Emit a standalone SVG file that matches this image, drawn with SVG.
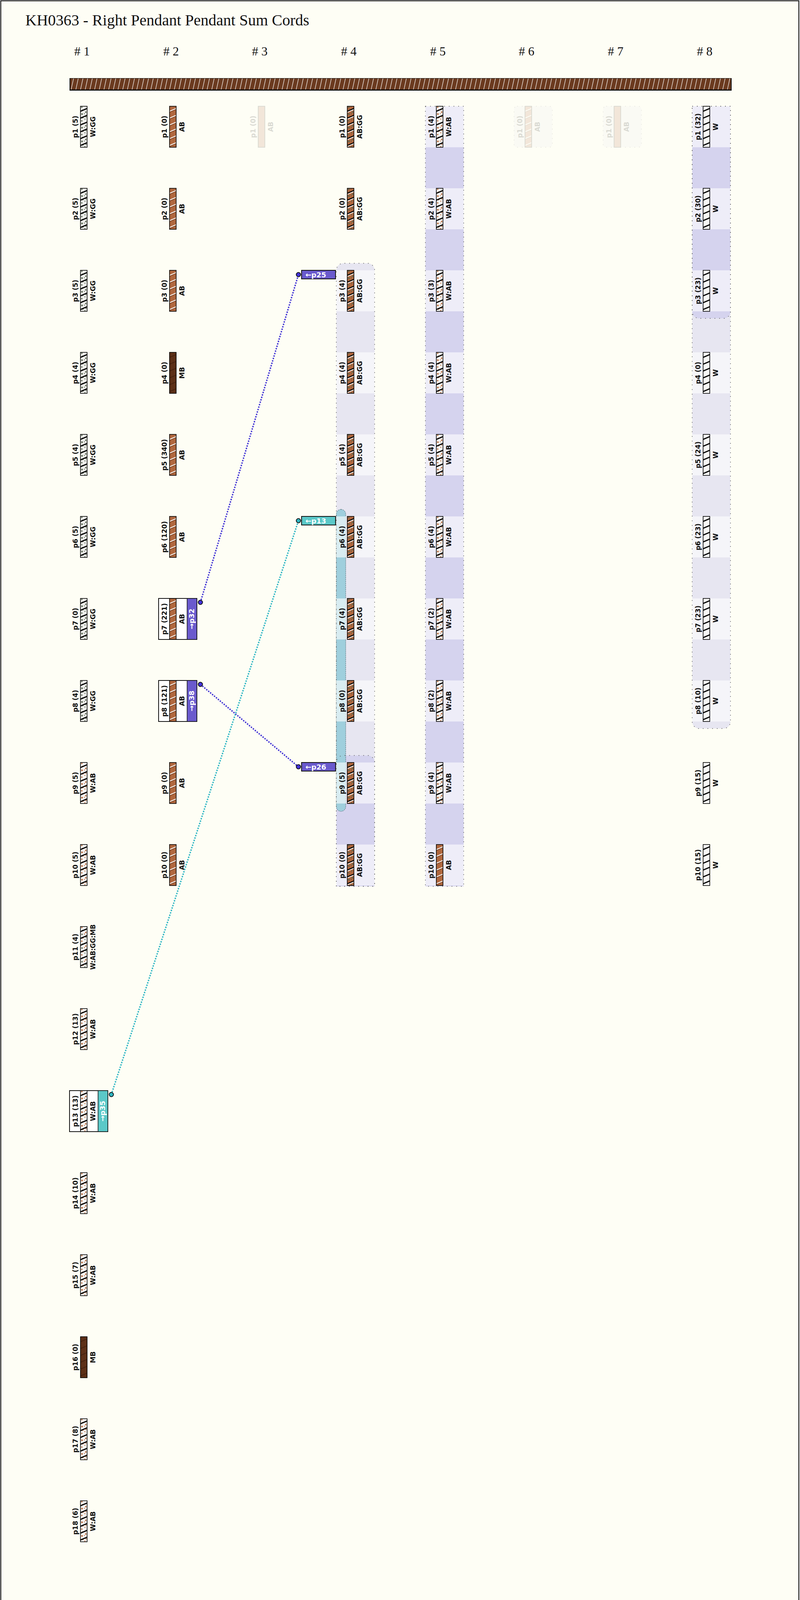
<svg xmlns="http://www.w3.org/2000/svg" width="2048" height="4234" viewBox="0 0 2048 4234">
<style>
.lb{font-family:"DejaVu Sans",Verdana,sans-serif;font-weight:bold;font-size:17px;fill:#111;text-anchor:middle}
.tag{font-family:"DejaVu Sans",Verdana,sans-serif;font-weight:bold;font-size:18px;fill:#fff}
.vtag{font-family:"DejaVu Sans",Verdana,sans-serif;font-weight:bold;font-size:18px;fill:#fff;text-anchor:middle}
.hdr{font-family:"Liberation Serif","Times New Roman",serif;font-size:32px;fill:#111;text-anchor:middle}
.cord{stroke:#000;stroke-width:1.6}
.layer{fill:#9d98e6;fill-opacity:0.23}
.gborder{fill:none;stroke:#555;stroke-width:1.5;stroke-dasharray:2 10}
.band{fill:#fff;fill-opacity:0.6}
.box{fill:#fff;stroke:#111;stroke-width:2}
.blue{fill:none;stroke:#3d2fd4;stroke-width:3.5;stroke-dasharray:3.5 3}
.cyan{fill:none;stroke:#2bb5c3;stroke-width:3.5;stroke-dasharray:3.5 3}
.dotb{fill:#4433dd;stroke:#111;stroke-width:2}
.dotc{fill:#2fb8c4;stroke:#111;stroke-width:2}
</style>
<defs>
<pattern id="pAB" width="17" height="35" patternUnits="userSpaceOnUse">
<rect width="17" height="35" fill="#b0673e"/>
<path d="M-1,15.8 L18,7.5 M-1,33.3 L18,25" stroke="#5a2e16" stroke-width="1"/>
<path d="M-1,13.4 L18,5.1 M-1,30.9 L18,22.6" stroke="#fff" stroke-width="2"/>
</pattern>
<pattern id="pMB" width="17" height="35" patternUnits="userSpaceOnUse">
<rect width="17" height="35" fill="#5c2f17"/>
<path d="M-1,13.4 L18,5.1 M-1,30.9 L18,22.6" stroke="#3b1b0b" stroke-width="1.5"/>
</pattern>
<pattern id="pW" width="17" height="35" patternUnits="userSpaceOnUse">
<rect width="17" height="35" fill="#f8f8f6"/>
<path d="M-1,13.4 L18,5.1 M-1,30.9 L18,22.6" stroke="#000" stroke-width="3"/>
</pattern>
<pattern id="pWGG" width="17" height="35" patternUnits="userSpaceOnUse">
<rect width="17" height="35" fill="#efefec"/>
<g fill="#5d6a55"><circle cx="3.5" cy="2.5" r="1.8"/><circle cx="12" cy="8" r="1.5"/><circle cx="5" cy="9.5" r="1.3"/><circle cx="13.5" cy="15" r="2"/><circle cx="4" cy="20" r="2.2"/><circle cx="10" cy="19" r="1.2"/><circle cx="14" cy="27" r="1.6"/><circle cx="6" cy="29" r="1.9"/><circle cx="11.5" cy="33" r="1.4"/></g>
<path d="M-1,13.4 L18,5.1 M-1,30.9 L18,22.6" stroke="#000" stroke-width="3"/>
</pattern>
<pattern id="pWAB" width="17" height="35" patternUnits="userSpaceOnUse">
<rect width="17" height="35" fill="#f6f6f4"/>
<g fill="#b86a3c"><circle cx="3.5" cy="2.5" r="1.8"/><circle cx="12" cy="8" r="1.5"/><circle cx="5" cy="9.5" r="1.3"/><circle cx="13.5" cy="15" r="2"/><circle cx="4" cy="20" r="2.2"/><circle cx="10" cy="19" r="1.2"/><circle cx="14" cy="27" r="1.6"/><circle cx="6" cy="29" r="1.9"/><circle cx="11.5" cy="33" r="1.4"/></g>
<path d="M-1,13.4 L18,5.1 M-1,30.9 L18,22.6" stroke="#000" stroke-width="3"/>
</pattern>
<pattern id="pWABGGMB" width="17" height="35" patternUnits="userSpaceOnUse">
<rect width="17" height="35" fill="#f4f4f2"/>
<g fill="#b86a3c"><circle cx="3.5" cy="2.5" r="1.8"/><circle cx="13.5" cy="15" r="2"/><circle cx="10" cy="19" r="1.4"/><circle cx="6" cy="29" r="1.9"/></g>
<g fill="#5d6a55"><circle cx="12" cy="8" r="1.6"/><circle cx="5" cy="9.5" r="1.3"/><circle cx="4" cy="20" r="2"/><circle cx="14" cy="27" r="1.6"/><circle cx="11.5" cy="33" r="1.4"/></g>
<path d="M-1,13.4 L18,5.1 M-1,30.9 L18,22.6" stroke="#000" stroke-width="3"/>
</pattern>
<pattern id="pABGG" width="17" height="35" patternUnits="userSpaceOnUse">
<rect width="17" height="35" fill="#b0673e"/>
<g fill="#546450"><circle cx="3.5" cy="2.5" r="1.8"/><circle cx="12" cy="8" r="1.5"/><circle cx="5" cy="9.5" r="1.3"/><circle cx="13.5" cy="15" r="2"/><circle cx="4" cy="20" r="2.2"/><circle cx="10" cy="19" r="1.2"/><circle cx="14" cy="27" r="1.6"/><circle cx="6" cy="29" r="1.9"/><circle cx="11.5" cy="33" r="1.4"/></g>
<path d="M-1,13.4 L18,5.1 M-1,30.9 L18,22.6" stroke="#000" stroke-width="2.5"/>
<path d="M-1,16.2 L18,7.9 M-1,33.7 L18,25.4" stroke="#fff" stroke-width="2"/>
</pattern>
<pattern id="pBar" width="12" height="28" patternUnits="userSpaceOnUse">
<rect width="12" height="28" fill="#6b3a1f"/>
<path d="M2,29 L8.5,-1" stroke="#fff" stroke-width="1.2"/>
</pattern>
</defs>

<rect x="2" y="2" width="2043" height="4229" fill="#fefef5" stroke="#222" stroke-width="2.5"/>

<text x="65" y="65" font-family="'Liberation Serif','Times New Roman',serif" font-size="40" fill="#111">KH0363 - Right Pendant Pendant Sum Cords</text>

<g id="headers">
<text class="hdr" x="210" y="142"># 1</text>
<text class="hdr" x="438" y="142"># 2</text>
<text class="hdr" x="665" y="142"># 3</text>
<text class="hdr" x="893" y="142"># 4</text>
<text class="hdr" x="1121" y="142"># 5</text>
<text class="hdr" x="1348" y="142"># 6</text>
<text class="hdr" x="1576" y="142"># 7</text>
<text class="hdr" x="1804" y="142"># 8</text>
</g>

<g id="main-cord">
<rect x="178" y="200" width="1695" height="32" fill="#111"/>
<g transform="translate(180,201)"><rect width="1691" height="28" fill="url(#pBar)"/></g>
</g>

<g id="groups">
<path class="layer" d="M861,2269 V692 A18,18 0 0 1 879,674 H941 A18,18 0 0 1 959,692 V2269 Z"/>
<path class="layer" d="M861,2269 V1952 A18,18 0 0 1 879,1934 H941 A18,18 0 0 1 959,1952 V2269 Z"/>
<rect class="layer" x="1089" y="272" width="98" height="1997"/>
<rect class="layer" x="1089" y="272" width="98" height="1997"/>
<path class="layer" d="M1772,272 H1870 V1847 A18,18 0 0 1 1852,1865 H1790 A18,18 0 0 1 1772,1847 Z"/>
<path class="layer" d="M1772,272 H1870 V797 A18,18 0 0 1 1852,815 H1790 A18,18 0 0 1 1772,797 Z"/>
<rect x="861" y="1304" width="24" height="773" rx="12" fill="#9fcfdd" stroke="#3b5660" stroke-width="1" stroke-dasharray="3 2"/>
<g id="bands">
<rect class="band" x="861" y="692" width="98" height="105"/>
<rect class="band" x="861" y="902" width="98" height="105"/>
<rect class="band" x="861" y="1112" width="98" height="105"/>
<rect class="band" x="861" y="1322" width="98" height="105"/>
<rect class="band" x="861" y="1532" width="98" height="105"/>
<rect class="band" x="861" y="1742" width="98" height="105"/>
<rect class="band" x="861" y="1952" width="98" height="105"/>
<rect class="band" x="861" y="2162" width="98" height="105"/>
<rect class="band" x="1089" y="272" width="98" height="105"/>
<rect class="band" x="1089" y="482" width="98" height="105"/>
<rect class="band" x="1089" y="692" width="98" height="105"/>
<rect class="band" x="1089" y="902" width="98" height="105"/>
<rect class="band" x="1089" y="1112" width="98" height="105"/>
<rect class="band" x="1089" y="1322" width="98" height="105"/>
<rect class="band" x="1089" y="1532" width="98" height="105"/>
<rect class="band" x="1089" y="1742" width="98" height="105"/>
<rect class="band" x="1089" y="1952" width="98" height="105"/>
<rect class="band" x="1089" y="2162" width="98" height="105"/>
<rect class="band" x="1772" y="272" width="98" height="105"/>
<rect class="band" x="1772" y="482" width="98" height="105"/>
<rect class="band" x="1772" y="692" width="98" height="105"/>
<rect class="band" x="1772" y="902" width="98" height="105"/>
<rect class="band" x="1772" y="1112" width="98" height="105"/>
<rect class="band" x="1772" y="1322" width="98" height="105"/>
<rect class="band" x="1772" y="1532" width="98" height="105"/>
<rect class="band" x="1772" y="1742" width="98" height="105"/>
</g>
<path class="gborder" d="M861,2269 V692 A18,18 0 0 1 879,674 H941 A18,18 0 0 1 959,692 V2269 Z"/>
<path class="gborder" d="M861,2269 V1952 A18,18 0 0 1 879,1934 H941 A18,18 0 0 1 959,1952 V2269 Z"/>
<rect class="gborder" x="1089" y="272" width="98" height="1997"/>
<path class="gborder" d="M1772,272 H1870 V1847 A18,18 0 0 1 1852,1865 H1790 A18,18 0 0 1 1772,1847 Z"/>
<path class="gborder" d="M1772,272 H1870 V797 A18,18 0 0 1 1852,815 H1790 A18,18 0 0 1 1772,797 Z"/>
</g>

<g id="col1">
<g id="c1p1" transform="translate(206,272)"><rect class="cord" width="17" height="105" fill="url(#pWGG)"/><text class="lb" transform="translate(-7,52.5) rotate(-90)">p1 (5)</text><text class="lb" transform="translate(38,52.5) rotate(-90)">W:GG</text></g>
<g id="c1p2" transform="translate(206,482)"><rect class="cord" width="17" height="105" fill="url(#pWGG)"/><text class="lb" transform="translate(-7,52.5) rotate(-90)">p2 (5)</text><text class="lb" transform="translate(38,52.5) rotate(-90)">W:GG</text></g>
<g id="c1p3" transform="translate(206,692)"><rect class="cord" width="17" height="105" fill="url(#pWGG)"/><text class="lb" transform="translate(-7,52.5) rotate(-90)">p3 (5)</text><text class="lb" transform="translate(38,52.5) rotate(-90)">W:GG</text></g>
<g id="c1p4" transform="translate(206,902)"><rect class="cord" width="17" height="105" fill="url(#pWGG)"/><text class="lb" transform="translate(-7,52.5) rotate(-90)">p4 (4)</text><text class="lb" transform="translate(38,52.5) rotate(-90)">W:GG</text></g>
<g id="c1p5" transform="translate(206,1112)"><rect class="cord" width="17" height="105" fill="url(#pWGG)"/><text class="lb" transform="translate(-7,52.5) rotate(-90)">p5 (4)</text><text class="lb" transform="translate(38,52.5) rotate(-90)">W:GG</text></g>
<g id="c1p6" transform="translate(206,1322)"><rect class="cord" width="17" height="105" fill="url(#pWGG)"/><text class="lb" transform="translate(-7,52.5) rotate(-90)">p6 (5)</text><text class="lb" transform="translate(38,52.5) rotate(-90)">W:GG</text></g>
<g id="c1p7" transform="translate(206,1532)"><rect class="cord" width="17" height="105" fill="url(#pWGG)"/><text class="lb" transform="translate(-7,52.5) rotate(-90)">p7 (0)</text><text class="lb" transform="translate(38,52.5) rotate(-90)">W:GG</text></g>
<g id="c1p8" transform="translate(206,1742)"><rect class="cord" width="17" height="105" fill="url(#pWGG)"/><text class="lb" transform="translate(-7,52.5) rotate(-90)">p8 (4)</text><text class="lb" transform="translate(38,52.5) rotate(-90)">W:GG</text></g>
<g id="c1p9" transform="translate(206,1952)"><rect class="cord" width="17" height="105" fill="url(#pWAB)"/><text class="lb" transform="translate(-7,52.5) rotate(-90)">p9 (5)</text><text class="lb" transform="translate(38,52.5) rotate(-90)">W:AB</text></g>
<g id="c1p10" transform="translate(206,2162)"><rect class="cord" width="17" height="105" fill="url(#pWAB)"/><text class="lb" transform="translate(-7,52.5) rotate(-90)">p10 (5)</text><text class="lb" transform="translate(38,52.5) rotate(-90)">W:AB</text></g>
<g id="c1p11" transform="translate(206,2372)"><rect class="cord" width="17" height="105" fill="url(#pWABGGMB)"/><text class="lb" transform="translate(-7,52.5) rotate(-90)">p11 (4)</text><text class="lb" transform="translate(38,52.5) rotate(-90)" textLength="116" lengthAdjust="spacingAndGlyphs">W:AB:GG:MB</text></g>
<g id="c1p12" transform="translate(206,2582)"><rect class="cord" width="17" height="105" fill="url(#pWAB)"/><text class="lb" transform="translate(-7,52.5) rotate(-90)">p12 (13)</text><text class="lb" transform="translate(38,52.5) rotate(-90)">W:AB</text></g>
<g id="c1p13" transform="translate(206,2792)"><rect class="box" x="-28" y="0" width="98" height="105"/><rect class="cord" width="17" height="105" fill="url(#pWAB)"/><rect x="45" y="0" width="25" height="105" fill="#5bc8c8" stroke="#111" stroke-width="1.5"/><text class="lb" transform="translate(-7,52.5) rotate(-90)">p13 (13)</text><text class="lb" transform="translate(38,52.5) rotate(-90)">W:AB</text><text class="vtag" transform="translate(63,52.5) rotate(-90)">→p35</text></g>
<g id="c1p14" transform="translate(206,3002)"><rect class="cord" width="17" height="105" fill="url(#pWAB)"/><text class="lb" transform="translate(-7,52.5) rotate(-90)">p14 (10)</text><text class="lb" transform="translate(38,52.5) rotate(-90)">W:AB</text></g>
<g id="c1p15" transform="translate(206,3212)"><rect class="cord" width="17" height="105" fill="url(#pWAB)"/><text class="lb" transform="translate(-7,52.5) rotate(-90)">p15 (7)</text><text class="lb" transform="translate(38,52.5) rotate(-90)">W:AB</text></g>
<g id="c1p16" transform="translate(206,3422)"><rect class="cord" width="17" height="105" fill="url(#pMB)"/><text class="lb" transform="translate(-7,52.5) rotate(-90)">p16 (0)</text><text class="lb" transform="translate(38,52.5) rotate(-90)">MB</text></g>
<g id="c1p17" transform="translate(206,3632)"><rect class="cord" width="17" height="105" fill="url(#pWAB)"/><text class="lb" transform="translate(-7,52.5) rotate(-90)">p17 (8)</text><text class="lb" transform="translate(38,52.5) rotate(-90)">W:AB</text></g>
<g id="c1p18" transform="translate(206,3842)"><rect class="cord" width="17" height="105" fill="url(#pWAB)"/><text class="lb" transform="translate(-7,52.5) rotate(-90)">p18 (6)</text><text class="lb" transform="translate(38,52.5) rotate(-90)">W:AB</text></g>
</g>

<g id="col2">
<g id="c2p1" transform="translate(434,272)"><rect class="cord" width="17" height="105" fill="url(#pAB)"/><text class="lb" transform="translate(-7,52.5) rotate(-90)">p1 (0)</text><text class="lb" transform="translate(38,52.5) rotate(-90)">AB</text></g>
<g id="c2p2" transform="translate(434,482)"><rect class="cord" width="17" height="105" fill="url(#pAB)"/><text class="lb" transform="translate(-7,52.5) rotate(-90)">p2 (0)</text><text class="lb" transform="translate(38,52.5) rotate(-90)">AB</text></g>
<g id="c2p3" transform="translate(434,692)"><rect class="cord" width="17" height="105" fill="url(#pAB)"/><text class="lb" transform="translate(-7,52.5) rotate(-90)">p3 (0)</text><text class="lb" transform="translate(38,52.5) rotate(-90)">AB</text></g>
<g id="c2p4" transform="translate(434,902)"><rect class="cord" width="17" height="105" fill="url(#pMB)"/><text class="lb" transform="translate(-7,52.5) rotate(-90)">p4 (0)</text><text class="lb" transform="translate(38,52.5) rotate(-90)">MB</text></g>
<g id="c2p5" transform="translate(434,1112)"><rect class="cord" width="17" height="105" fill="url(#pAB)"/><text class="lb" transform="translate(-7,52.5) rotate(-90)">p5 (340)</text><text class="lb" transform="translate(38,52.5) rotate(-90)">AB</text></g>
<g id="c2p6" transform="translate(434,1322)"><rect class="cord" width="17" height="105" fill="url(#pAB)"/><text class="lb" transform="translate(-7,52.5) rotate(-90)">p6 (120)</text><text class="lb" transform="translate(38,52.5) rotate(-90)">AB</text></g>
<g id="c2p7" transform="translate(434,1532)"><rect class="box" x="-28" y="0" width="98" height="105"/><rect class="cord" width="17" height="105" fill="url(#pAB)"/><rect x="45" y="0" width="25" height="105" fill="#6a5acd" stroke="#111" stroke-width="1.5"/><text class="lb" transform="translate(-7,52.5) rotate(-90)">p7 (221)</text><text class="lb" transform="translate(38,52.5) rotate(-90)">AB</text><text class="vtag" transform="translate(63,52.5) rotate(-90)">→p32</text></g>
<g id="c2p8" transform="translate(434,1742)"><rect class="box" x="-28" y="0" width="98" height="105"/><rect class="cord" width="17" height="105" fill="url(#pAB)"/><rect x="45" y="0" width="25" height="105" fill="#6a5acd" stroke="#111" stroke-width="1.5"/><text class="lb" transform="translate(-7,52.5) rotate(-90)">p8 (121)</text><text class="lb" transform="translate(38,52.5) rotate(-90)">AB</text><text class="vtag" transform="translate(63,52.5) rotate(-90)">→p38</text></g>
<g id="c2p9" transform="translate(434,1952)"><rect class="cord" width="17" height="105" fill="url(#pAB)"/><text class="lb" transform="translate(-7,52.5) rotate(-90)">p9 (0)</text><text class="lb" transform="translate(38,52.5) rotate(-90)">AB</text></g>
<g id="c2p10" transform="translate(434,2162)"><rect class="cord" width="17" height="105" fill="url(#pAB)"/><text class="lb" transform="translate(-7,52.5) rotate(-90)">p10 (0)</text><text class="lb" transform="translate(38,52.5) rotate(-90)">AB</text></g>
</g>

<g id="col3">
<g id="c3p1" transform="translate(661,272)" opacity="0.15"><rect class="cord" width="17" height="105" fill="#b0673e"/><text class="lb" transform="translate(-7,52.5) rotate(-90)">p1 (0)</text><text class="lb" transform="translate(38,52.5) rotate(-90)">AB</text></g>
</g>

<g id="col4">
<g id="c4p1" transform="translate(889,272)"><rect class="cord" width="17" height="105" fill="url(#pABGG)"/><text class="lb" transform="translate(-7,52.5) rotate(-90)">p1 (0)</text><text class="lb" transform="translate(38,52.5) rotate(-90)">AB:GG</text></g>
<g id="c4p2" transform="translate(889,482)"><rect class="cord" width="17" height="105" fill="url(#pABGG)"/><text class="lb" transform="translate(-7,52.5) rotate(-90)">p2 (0)</text><text class="lb" transform="translate(38,52.5) rotate(-90)">AB:GG</text></g>
<g id="c4p3" transform="translate(889,692)"><rect class="cord" width="17" height="105" fill="url(#pABGG)"/><text class="lb" transform="translate(-7,52.5) rotate(-90)">p3 (4)</text><text class="lb" transform="translate(38,52.5) rotate(-90)">AB:GG</text><rect x="-117" y="0" width="87" height="22" fill="#6a5acd" stroke="#111" stroke-width="2"/><text class="tag" x="-107" y="18">←p25</text></g>
<g id="c4p4" transform="translate(889,902)"><rect class="cord" width="17" height="105" fill="url(#pABGG)"/><text class="lb" transform="translate(-7,52.5) rotate(-90)">p4 (4)</text><text class="lb" transform="translate(38,52.5) rotate(-90)">AB:GG</text></g>
<g id="c4p5" transform="translate(889,1112)"><rect class="cord" width="17" height="105" fill="url(#pABGG)"/><text class="lb" transform="translate(-7,52.5) rotate(-90)">p5 (4)</text><text class="lb" transform="translate(38,52.5) rotate(-90)">AB:GG</text></g>
<g id="c4p6" transform="translate(889,1322)"><rect class="cord" width="17" height="105" fill="url(#pABGG)"/><text class="lb" transform="translate(-7,52.5) rotate(-90)">p6 (4)</text><text class="lb" transform="translate(38,52.5) rotate(-90)">AB:GG</text><rect x="-117" y="0" width="87" height="22" fill="#5bc8c8" stroke="#111" stroke-width="2"/><text class="tag" x="-107" y="18">←p13</text></g>
<g id="c4p7" transform="translate(889,1532)"><rect class="cord" width="17" height="105" fill="url(#pABGG)"/><text class="lb" transform="translate(-7,52.5) rotate(-90)">p7 (4)</text><text class="lb" transform="translate(38,52.5) rotate(-90)">AB:GG</text></g>
<g id="c4p8" transform="translate(889,1742)"><rect class="cord" width="17" height="105" fill="url(#pABGG)"/><text class="lb" transform="translate(-7,52.5) rotate(-90)">p8 (0)</text><text class="lb" transform="translate(38,52.5) rotate(-90)">AB:GG</text></g>
<g id="c4p9" transform="translate(889,1952)"><rect class="cord" width="17" height="105" fill="url(#pABGG)"/><text class="lb" transform="translate(-7,52.5) rotate(-90)">p9 (5)</text><text class="lb" transform="translate(38,52.5) rotate(-90)">AB:GG</text><rect x="-117" y="0" width="87" height="22" fill="#6a5acd" stroke="#111" stroke-width="2"/><text class="tag" x="-107" y="18">←p26</text></g>
<g id="c4p10" transform="translate(889,2162)"><rect class="cord" width="17" height="105" fill="url(#pABGG)"/><text class="lb" transform="translate(-7,52.5) rotate(-90)">p10 (0)</text><text class="lb" transform="translate(38,52.5) rotate(-90)">AB:GG</text></g>
</g>

<g id="col5">
<g id="c5p1" transform="translate(1117,272)"><rect class="cord" width="17" height="105" fill="url(#pWAB)"/><text class="lb" transform="translate(-7,52.5) rotate(-90)">p1 (4)</text><text class="lb" transform="translate(38,52.5) rotate(-90)">W:AB</text></g>
<g id="c5p2" transform="translate(1117,482)"><rect class="cord" width="17" height="105" fill="url(#pWAB)"/><text class="lb" transform="translate(-7,52.5) rotate(-90)">p2 (4)</text><text class="lb" transform="translate(38,52.5) rotate(-90)">W:AB</text></g>
<g id="c5p3" transform="translate(1117,692)"><rect class="cord" width="17" height="105" fill="url(#pWAB)"/><text class="lb" transform="translate(-7,52.5) rotate(-90)">p3 (3)</text><text class="lb" transform="translate(38,52.5) rotate(-90)">W:AB</text></g>
<g id="c5p4" transform="translate(1117,902)"><rect class="cord" width="17" height="105" fill="url(#pWAB)"/><text class="lb" transform="translate(-7,52.5) rotate(-90)">p4 (4)</text><text class="lb" transform="translate(38,52.5) rotate(-90)">W:AB</text></g>
<g id="c5p5" transform="translate(1117,1112)"><rect class="cord" width="17" height="105" fill="url(#pWAB)"/><text class="lb" transform="translate(-7,52.5) rotate(-90)">p5 (4)</text><text class="lb" transform="translate(38,52.5) rotate(-90)">W:AB</text></g>
<g id="c5p6" transform="translate(1117,1322)"><rect class="cord" width="17" height="105" fill="url(#pWAB)"/><text class="lb" transform="translate(-7,52.5) rotate(-90)">p6 (4)</text><text class="lb" transform="translate(38,52.5) rotate(-90)">W:AB</text></g>
<g id="c5p7" transform="translate(1117,1532)"><rect class="cord" width="17" height="105" fill="url(#pWAB)"/><text class="lb" transform="translate(-7,52.5) rotate(-90)">p7 (2)</text><text class="lb" transform="translate(38,52.5) rotate(-90)">W:AB</text></g>
<g id="c5p8" transform="translate(1117,1742)"><rect class="cord" width="17" height="105" fill="url(#pWAB)"/><text class="lb" transform="translate(-7,52.5) rotate(-90)">p8 (2)</text><text class="lb" transform="translate(38,52.5) rotate(-90)">W:AB</text></g>
<g id="c5p9" transform="translate(1117,1952)"><rect class="cord" width="17" height="105" fill="url(#pWAB)"/><text class="lb" transform="translate(-7,52.5) rotate(-90)">p9 (4)</text><text class="lb" transform="translate(38,52.5) rotate(-90)">W:AB</text></g>
<g id="c5p10" transform="translate(1117,2162)"><rect class="cord" width="17" height="105" fill="url(#pAB)"/><text class="lb" transform="translate(-7,52.5) rotate(-90)">p10 (0)</text><text class="lb" transform="translate(38,52.5) rotate(-90)">AB</text></g>
</g>

<g id="col6">
<g id="c6p1" transform="translate(1344,272)" opacity="0.15"><rect x="-28" y="0" width="98" height="105" rx="8" class="layer"/><rect x="-28" y="0" width="98" height="105" rx="8" class="gborder"/><rect class="cord" width="17" height="105" fill="url(#pAB)"/><text class="lb" transform="translate(-7,52.5) rotate(-90)">p1 (0)</text><text class="lb" transform="translate(38,52.5) rotate(-90)">AB</text></g>
</g>

<g id="col7">
<g id="c7p1" transform="translate(1572,272)" opacity="0.15"><rect x="-28" y="0" width="98" height="105" rx="8" class="layer"/><rect x="-28" y="0" width="98" height="105" rx="8" class="gborder"/><rect class="cord" width="17" height="105" fill="#b0673e"/><text class="lb" transform="translate(-7,52.5) rotate(-90)">p1 (0)</text><text class="lb" transform="translate(38,52.5) rotate(-90)">AB</text></g>
</g>

<g id="col8">
<g id="c8p1" transform="translate(1800,272)"><rect class="cord" width="17" height="105" fill="url(#pW)"/><text class="lb" transform="translate(-7,52.5) rotate(-90)">p1 (32)</text><text class="lb" transform="translate(38,52.5) rotate(-90)">W</text></g>
<g id="c8p2" transform="translate(1800,482)"><rect class="cord" width="17" height="105" fill="url(#pW)"/><text class="lb" transform="translate(-7,52.5) rotate(-90)">p2 (30)</text><text class="lb" transform="translate(38,52.5) rotate(-90)">W</text></g>
<g id="c8p3" transform="translate(1800,692)"><rect class="cord" width="17" height="105" fill="url(#pW)"/><text class="lb" transform="translate(-7,52.5) rotate(-90)">p3 (23)</text><text class="lb" transform="translate(38,52.5) rotate(-90)">W</text></g>
<g id="c8p4" transform="translate(1800,902)"><rect class="cord" width="17" height="105" fill="url(#pW)"/><text class="lb" transform="translate(-7,52.5) rotate(-90)">p4 (0)</text><text class="lb" transform="translate(38,52.5) rotate(-90)">W</text></g>
<g id="c8p5" transform="translate(1800,1112)"><rect class="cord" width="17" height="105" fill="url(#pW)"/><text class="lb" transform="translate(-7,52.5) rotate(-90)">p5 (24)</text><text class="lb" transform="translate(38,52.5) rotate(-90)">W</text></g>
<g id="c8p6" transform="translate(1800,1322)"><rect class="cord" width="17" height="105" fill="url(#pW)"/><text class="lb" transform="translate(-7,52.5) rotate(-90)">p6 (23)</text><text class="lb" transform="translate(38,52.5) rotate(-90)">W</text></g>
<g id="c8p7" transform="translate(1800,1532)"><rect class="cord" width="17" height="105" fill="url(#pW)"/><text class="lb" transform="translate(-7,52.5) rotate(-90)">p7 (23)</text><text class="lb" transform="translate(38,52.5) rotate(-90)">W</text></g>
<g id="c8p8" transform="translate(1800,1742)"><rect class="cord" width="17" height="105" fill="url(#pW)"/><text class="lb" transform="translate(-7,52.5) rotate(-90)">p8 (10)</text><text class="lb" transform="translate(38,52.5) rotate(-90)">W</text></g>
<g id="c8p9" transform="translate(1800,1952)"><rect class="cord" width="17" height="105" fill="url(#pW)"/><text class="lb" transform="translate(-7,52.5) rotate(-90)">p9 (15)</text><text class="lb" transform="translate(38,52.5) rotate(-90)">W</text></g>
<g id="c8p10" transform="translate(1800,2162)"><rect class="cord" width="17" height="105" fill="url(#pW)"/><text class="lb" transform="translate(-7,52.5) rotate(-90)">p10 (15)</text><text class="lb" transform="translate(38,52.5) rotate(-90)">W</text></g>
</g>

<g id="connectors">
<line class="blue" x1="513" y1="1542" x2="764" y2="703"/>
<line class="blue" x1="513" y1="1752" x2="764" y2="1963"/>
<line class="cyan" x1="285" y1="2802" x2="764" y2="1333"/>
<circle class="dotb" cx="513" cy="1542" r="5.5"/>
<circle class="dotb" cx="764" cy="703" r="5.5"/>
<circle class="dotb" cx="513" cy="1752" r="5.5"/>
<circle class="dotb" cx="764" cy="1963" r="5.5"/>
<circle class="dotc" cx="285" cy="2802" r="5.5"/>
<circle class="dotc" cx="764" cy="1333" r="5.5"/>
</g>
</svg>
